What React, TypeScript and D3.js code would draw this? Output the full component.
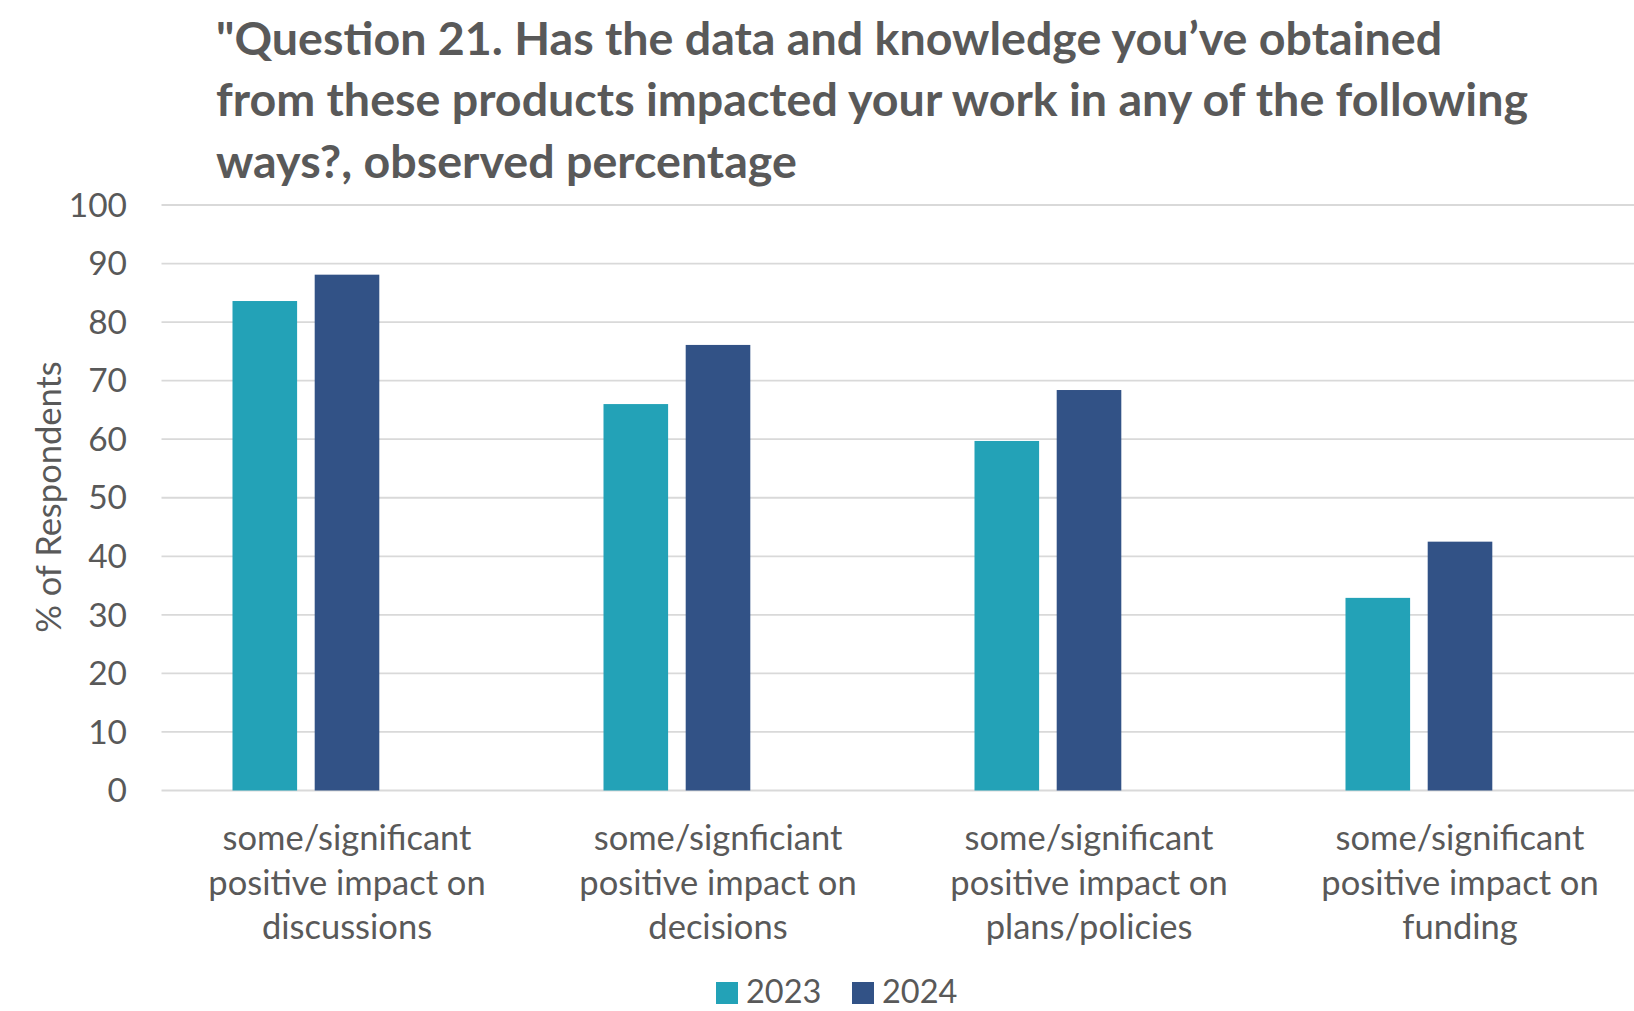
import * as d3 from 'd3';

// Values
const categories = ['discussions', 'decisions', 'plans/policies', 'funding'];
const categoryLines = [
  ['some/significant', 'positive impact on', 'discussions'],
  ['some/signficiant', 'positive impact on', 'decisions'],
  ['some/significant', 'positive impact on', 'plans/policies'],
  ['some/significant', 'positive impact on', 'funding'],
];
const years = ['2023', '2024'];
const values2023 = [83.6, 66.0, 59.7, 32.9];
const values2024 = [88.1, 76.1, 68.4, 42.5];
const yTicks = [0, 10, 20, 30, 40, 50, 60, 70, 80, 90, 100];
const titleLines = [
  '"Question 21. Has the data and knowledge you\u2019ve obtained',
  'from these products impacted your work in any of the following',
  'ways?, observed percentage',
];

const COLORS: Record<string, string> = { '2023': '#23A2B7', '2024': '#325286' };
const TEXT = '#595959';
const FONT = 'Lato, "Open Sans", sans-serif';

const W = 1634;
const H = 1011;
const plot = { left: 161.5, right: 1645.5, top: 205, bottom: 790.5 };

export default function App() {
  const series = [values2023, values2024];

  const x0 = d3.scaleBand<string>().domain(categories).range([plot.left, plot.right]);
  // the source chart keeps room for a third (empty) series slot, so bars sit left of centre
  const x1 = d3
    .scaleBand<string>()
    .domain([...years, 'blank'])
    .range([71, 300])
    .paddingInner(0.214);
  const y = d3.scaleLinear().domain([0, 100]).range([plot.bottom, plot.top]);

  return (
    <svg
      width={W}
      height={H}
      style={{ position: 'absolute', left: 0, top: 0, background: '#fff' }}
      fontFamily={FONT}
    >
      <rect width={W} height={H} fill="#fff" />

      {titleLines.map((line, i) => (
        <text
          key={i}
          x={216}
          y={38.5 + i * 61.5}
          dy="0.35em"
          fontSize={46.6}
          fontWeight={700}
          fill={TEXT}
        >
          {line}
        </text>
      ))}

      {/* gridlines */}
      {yTicks.map((t) => (
        <line
          key={t}
          x1={plot.left}
          x2={plot.right}
          y1={y(t)}
          y2={y(t)}
          stroke="#D9D9D9"
          strokeWidth={1.8}
        />
      ))}

      {/* y tick labels */}
      {yTicks.map((t) => (
        <text
          key={'l' + t}
          x={127}
          y={y(t)}
          dy="0.35em"
          textAnchor="end"
          fontSize={33.5}
          fill={TEXT}
        >
          {t}
        </text>
      ))}

      <text
        transform={`translate(49, ${497}) rotate(-90)`}
        textAnchor="middle"
        dy="0.35em"
        fontSize={34.5}
        fill={TEXT}
      >
        % of Respondents
      </text>

      {/* bars */}
      {categories.map((c, ci) => (
        <g key={c} transform={`translate(${x0(c)},0)`}>
          {years.map((yr, si) => (
            <rect
              key={yr}
              x={x1(yr)}
              y={y(series[si][ci])}
              width={x1.bandwidth()}
              height={y(0) - y(series[si][ci])}
              fill={COLORS[yr]}
            />
          ))}
        </g>
      ))}

      {/* category labels */}
      {categories.map((c, ci) => (
        <text
          key={'c' + c}
          x={(x0(c) ?? 0) + x0.bandwidth() / 2}
          y={838}
          textAnchor="middle"
          fontSize={34.5}
          fill={TEXT}
        >
          {categoryLines[ci].map((ln, li) => (
            <tspan key={li} x={(x0(c) ?? 0) + x0.bandwidth() / 2} y={838 + li * 44.5} dy="0.35em">
              {ln}
            </tspan>
          ))}
        </text>
      ))}

      {/* legend */}
      {years.map((yr, i) => (
        <g key={'lg' + yr} transform={`translate(${716 + i * 136}, 992)`}>
          <rect x={0} y={-10} width={22} height={22} fill={COLORS[yr]} />
          <text x={30} y={0} dy="0.35em" fontSize={32.5} fill={TEXT}>
            {yr}
          </text>
        </g>
      ))}
    </svg>
  );
}
